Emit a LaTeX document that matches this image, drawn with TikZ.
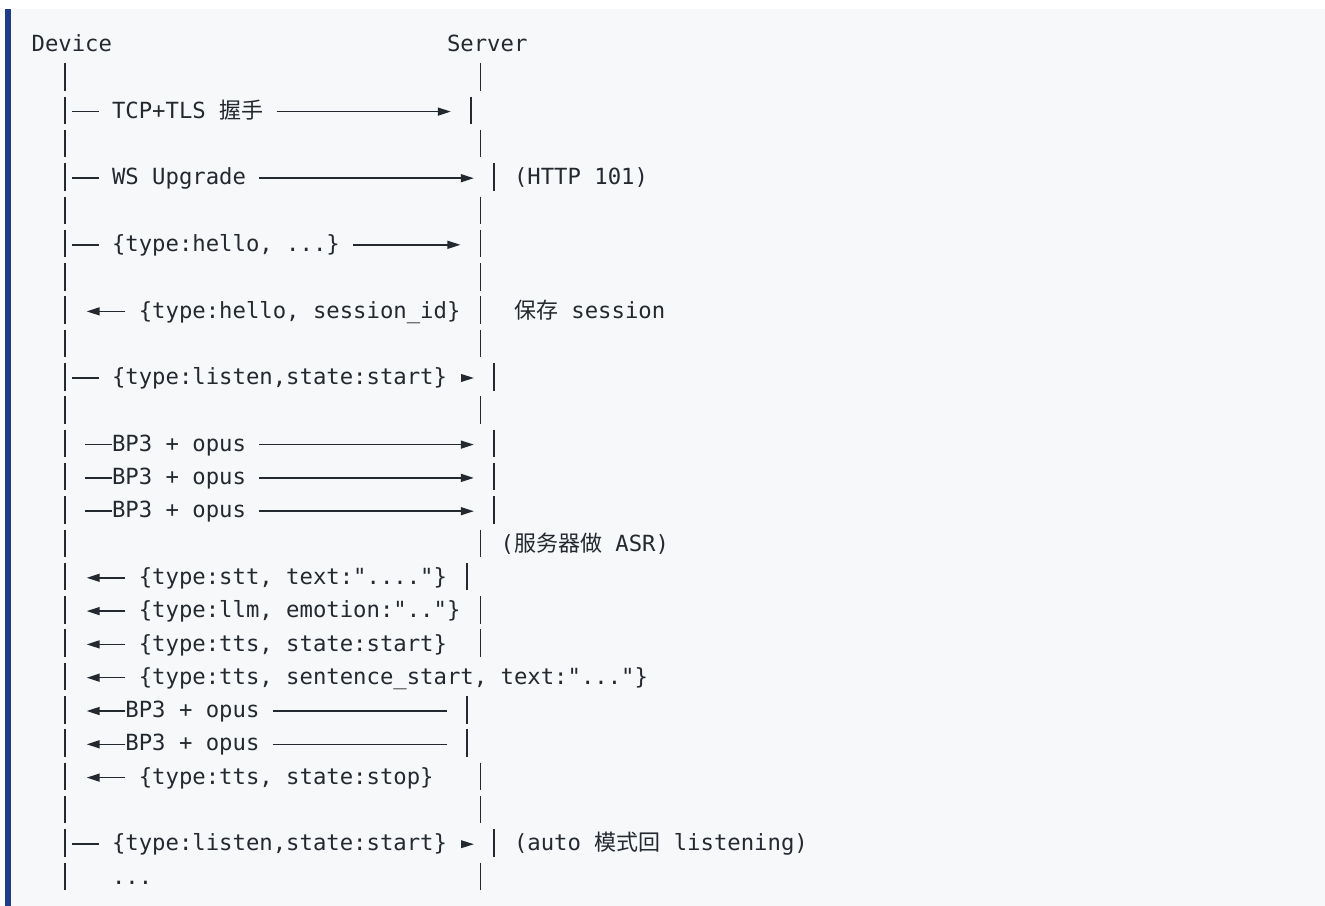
\documentclass[tikz,border=0pt]{standalone}
\usepackage{fontspec}
\setmonofont{DejaVu Sans Mono}
\newfontfamily\cjkfont{Noto Sans CJK SC}
\usetikzlibrary{arrows.meta}

\definecolor{ink}{HTML}{24292F}
\definecolor{codebg}{HTML}{F6F8FA}
\definecolor{quotebar}{HTML}{1F3B8C}

% monospace grid: column -> x, row -> y (text mid-height)
\newcommand{\colx}[1]{(31.6+13.4*(#1))}
\newcommand{\rowy}[1]{(43.5+33.3*(#1))}
\newcommand{\zh}[1]{{\cjkfont\fontsize{22}{26}\selectfont #1}}
% one lifeline segment: column centre, row
\newcommand{\lbar}[2]{\draw[lifeline] ({\colx{#1}},{\rowy{#2}-13.5}) -- ({\colx{#1}},{\rowy{#2}+14});}
% horizontal rule between two column edges in a row
\newcommand{\hseg}[3]{\draw[rule] ({\colx{#1}},{\rowy{#3}+1.5}) -- ({\colx{#2}},{\rowy{#3}+1.5});}
% small filled pointer in a column cell
\newcommand{\pointer}[2]{\fill[tri] ({\colx{#1}+0.8},{\rowy{#2}+1.5-4}) -- ({\colx{#1}+13.4},{\rowy{#2}+1.5}) -- ({\colx{#1}+0.8},{\rowy{#2}+1.5+4}) -- cycle;}

\begin{document}
\begin{tikzpicture}[x=1pt,y=-1pt,
  txt/.style={anchor=base west,inner sep=0pt,outer sep=0pt,text=ink,
              font=\ttfamily\fontsize{22.26}{26}\selectfont\frenchspacing},
  lifeline/.style={draw=ink,line width=1.9pt},
  rule/.style={draw=ink,line width=1.5pt},
  msg/.style={rule,-{Triangle[length=13pt,width=8pt]}},
  tri/.style={fill=ink},
]
\useasboundingbox (0,0) rectangle (1325,905);
\fill[white] (0,0) rectangle (1325,905);
\fill[codebg] (5,9) rectangle (1326,906);
\fill[quotebar] (5,9) rectangle (11,906);

% header
\node[txt] (dev) at ({\colx{0}},{\rowy{0}+8.1}) {Device};
\node[txt] (srv) at ({\colx{31}},{\rowy{0}+8.1}) {Server};

% device lifeline
\foreach \r in {1,...,25} {\lbar{2.5}{\r}}
% server lifeline (its column drifts from row to row)
\foreach \r in {1,3,5,6,7,8,9,11,15,17,18,22,23,25} {\lbar{33.5}{\r}}
\foreach \r in {4,10,12,13,14,24} {\lbar{34.5}{\r}}
\foreach \r in {16,20,21} {\lbar{32.5}{\r}}
\lbar{32.78}{2}

% row 2: TCP+TLS handshake
\hseg{3}{5}{2}
\node[txt] (m2) at ({\colx{6}},{\rowy{2}+8.1}) {TCP+TLS \zh{握手}};
\draw[msg] (276.6,{\rowy{2}+1.5}) -- (450.8,{\rowy{2}+1.5});

% row 4: WS upgrade
\hseg{3}{5}{4}
\node[txt] (m4) at ({\colx{6}},{\rowy{4}+8.1}) {WS Upgrade};
\draw[msg] ({\colx{17}},{\rowy{4}+1.5}) -- ({\colx{33}},{\rowy{4}+1.5});
\node[txt] (n4) at ({\colx{36}},{\rowy{4}+8.1}) {(HTTP 101)};

% row 6: client hello
\hseg{3}{5}{6}
\node[txt] (m6) at ({\colx{6}},{\rowy{6}+8.1}) {\{type:hello, ...\}};
\draw[msg] ({\colx{24}},{\rowy{6}+1.5}) -- ({\colx{32}},{\rowy{6}+1.5});

% row 8: server hello
\draw[msg] ({\colx{7}},{\rowy{8}+1.5}) -- ({\colx{4}+1.5},{\rowy{8}+1.5});
\node[txt] (m8) at ({\colx{8}},{\rowy{8}+8.1}) {\{type:hello, session\_id\}};
\node[txt] (n8) at ({\colx{36}},{\rowy{8}+8.1}) {\zh{保存} session};

% row 10: listen start
\hseg{3}{5}{10}
\node[txt] (m10) at ({\colx{6}},{\rowy{10}+8.1}) {\{type:listen,state:start\}};
\pointer{32}{10}

% rows 12-14: uplink audio
\foreach \r/\nm in {12/m12,13/m13,14/m14} {
  \hseg{4}{6}{\r}
  \node[txt] (\nm) at ({\colx{6}},{\rowy{\r}+8.1}) {BP3 + opus};
  \draw[msg] ({\colx{17}},{\rowy{\r}+1.5}) -- ({\colx{33}},{\rowy{\r}+1.5});
}

% row 15: note
\node[txt] (n15) at ({\colx{35}},{\rowy{15}+8.1}) {(\zh{服务器做} ASR)};

% rows 16-19, 22: downlink JSON messages
\foreach \r in {16,17,18,19,22} {
  \draw[msg] ({\colx{7}},{\rowy{\r}+1.5}) -- ({\colx{4}+1.5},{\rowy{\r}+1.5});
}
\node[txt] (m16) at ({\colx{8}},{\rowy{16}+8.1}) {\{type:stt, text:"...."\}};
\node[txt] (m17) at ({\colx{8}},{\rowy{17}+8.1}) {\{type:llm, emotion:".."\}};
\node[txt] (m18) at ({\colx{8}},{\rowy{18}+8.1}) {\{type:tts, state:start\}};
\node[txt] (m19) at ({\colx{8}},{\rowy{19}+8.1}) {\{type:tts, sentence\_start, text:"..."\}};
\node[txt] (m22) at ({\colx{8}},{\rowy{22}+8.1}) {\{type:tts, state:stop\}};

% rows 20-21: downlink audio
\foreach \r/\nm in {20/m20,21/m21} {
  \draw[msg] ({\colx{7}},{\rowy{\r}+1.5}) -- ({\colx{4}+1.5},{\rowy{\r}+1.5});
  \node[txt] (\nm) at ({\colx{7}},{\rowy{\r}+8.1}) {BP3 + opus};
  \hseg{18}{31}{\r}
}

% row 24: listen again
\hseg{3}{5}{24}
\node[txt] (m24) at ({\colx{6}},{\rowy{24}+8.1}) {\{type:listen,state:start\}};
\pointer{32}{24}
\node[txt] (n24) at ({\colx{36}},{\rowy{24}+8.1}) {(auto \zh{模式回} listening)};

% row 25
\node[txt] (m25) at ({\colx{6}},{\rowy{25}+8.1}) {...};
\end{tikzpicture}
\end{document}
